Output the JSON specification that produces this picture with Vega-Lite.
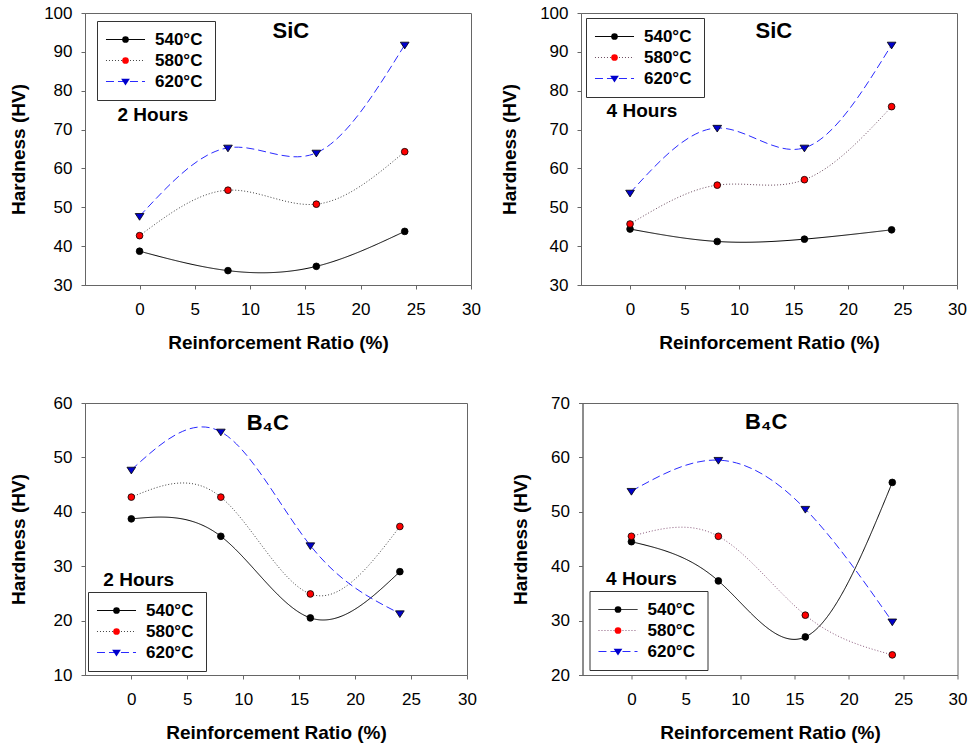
{
  "$schema": "https://vega.github.io/schema/vega-lite/v6.json",
  "background": "white",
  "padding": {"left": 8, "top": 3, "right": 0, "bottom": 0},
  "datasets": {
    "sic2": [
      {"ratio": 0, "hardness": 38.7, "temp": "540°C"},
      {"ratio": 8, "hardness": 33.7, "temp": "540°C"},
      {"ratio": 16, "hardness": 34.8, "temp": "540°C"},
      {"ratio": 24, "hardness": 43.8, "temp": "540°C"},
      {"ratio": 0, "hardness": 42.7, "temp": "580°C"},
      {"ratio": 8, "hardness": 54.4, "temp": "580°C"},
      {"ratio": 16, "hardness": 50.8, "temp": "580°C"},
      {"ratio": 24, "hardness": 64.3, "temp": "580°C"},
      {"ratio": 0, "hardness": 47.7, "temp": "620°C"},
      {"ratio": 8, "hardness": 65.3, "temp": "620°C"},
      {"ratio": 16, "hardness": 64.0, "temp": "620°C"},
      {"ratio": 24, "hardness": 91.8, "temp": "620°C"}
    ],
    "sic4": [
      {"ratio": 0, "hardness": 44.4, "temp": "540°C"},
      {"ratio": 8, "hardness": 41.2, "temp": "540°C"},
      {"ratio": 16, "hardness": 41.8, "temp": "540°C"},
      {"ratio": 24, "hardness": 44.2, "temp": "540°C"},
      {"ratio": 0, "hardness": 45.7, "temp": "580°C"},
      {"ratio": 8, "hardness": 55.7, "temp": "580°C"},
      {"ratio": 16, "hardness": 57.1, "temp": "580°C"},
      {"ratio": 24, "hardness": 75.9, "temp": "580°C"},
      {"ratio": 0, "hardness": 53.7, "temp": "620°C"},
      {"ratio": 8, "hardness": 70.4, "temp": "620°C"},
      {"ratio": 16, "hardness": 65.3, "temp": "620°C"},
      {"ratio": 24, "hardness": 91.8, "temp": "620°C"}
    ],
    "b4c2": [
      {"ratio": 0, "hardness": 38.7, "temp": "540°C"},
      {"ratio": 8, "hardness": 35.5, "temp": "540°C"},
      {"ratio": 16, "hardness": 20.5, "temp": "540°C"},
      {"ratio": 24, "hardness": 29.0, "temp": "540°C"},
      {"ratio": 0, "hardness": 42.7, "temp": "580°C"},
      {"ratio": 8, "hardness": 42.7, "temp": "580°C"},
      {"ratio": 16, "hardness": 24.9, "temp": "580°C"},
      {"ratio": 24, "hardness": 37.3, "temp": "580°C"},
      {"ratio": 0, "hardness": 47.7, "temp": "620°C"},
      {"ratio": 8, "hardness": 54.7, "temp": "620°C"},
      {"ratio": 16, "hardness": 33.8, "temp": "620°C"},
      {"ratio": 24, "hardness": 21.3, "temp": "620°C"}
    ],
    "b4c4": [
      {"ratio": 0, "hardness": 44.5, "temp": "540°C"},
      {"ratio": 8, "hardness": 37.3, "temp": "540°C"},
      {"ratio": 16, "hardness": 27.0, "temp": "540°C"},
      {"ratio": 24, "hardness": 55.4, "temp": "540°C"},
      {"ratio": 0, "hardness": 45.5, "temp": "580°C"},
      {"ratio": 8, "hardness": 45.5, "temp": "580°C"},
      {"ratio": 16, "hardness": 31.0, "temp": "580°C"},
      {"ratio": 24, "hardness": 23.7, "temp": "580°C"},
      {"ratio": 0, "hardness": 53.8, "temp": "620°C"},
      {"ratio": 8, "hardness": 59.5, "temp": "620°C"},
      {"ratio": 16, "hardness": 50.5, "temp": "620°C"},
      {"ratio": 24, "hardness": 29.8, "temp": "620°C"}
    ]
  },
  "spacing": 40,
  "resolve": {"scale": {"color": "independent", "fill": "independent", "shape": "independent", "strokeDash": "independent"}},
  "vconcat": [
    {
      "spacing": 19,
      "resolve": {"scale": {"color": "independent", "fill": "independent", "shape": "independent", "strokeDash": "independent"}},
      "hconcat": [
        {
          "width": 386, "height": 272,
          "data": {"name": "sic2"},
          "layer": [
            {
              "mark": {"type": "line", "interpolate": "natural", "strokeWidth": 1},
              "encoding": {
                "x": {"field": "ratio", "type": "quantitative", "scale": {"domain": [-4.94, 30], "nice": false, "zero": false}, "axis": {"values": [0, 5, 10, 15, 20, 25, 30], "tickCount": 20, "title": "Reinforcement Ratio (%)", "labelOverlap": false}},
                "y": {"field": "hardness", "type": "quantitative", "scale": {"domain": [30, 100], "nice": false, "zero": false}, "axis": {"values": [30, 40, 50, 60, 70, 80, 90, 100], "tickCount": 20, "title": "Hardness (HV)", "labelOverlap": false, "titlePadding": 15.5}},
                "color": {"field": "temp", "type": "nominal", "scale": {"domain": ["540°C", "580°C", "620°C"], "range": ["#000000", "#444444", "#2a2aff"]}, "legend": {"orient": "none", "legendX": 12, "legendY": 8, "title": null, "symbolType": "M-5,0H5", "symbolSize": 61, "symbolOffset": 10, "symbolStrokeWidth": 1, "symbolFillColor": "transparent", "strokeColor": null, "fillColor": null, "labelOffset": 21}},
                "strokeDash": {"field": "temp", "type": "nominal", "scale": {"domain": ["540°C", "580°C", "620°C"], "range": [[1, 0], [1, 2], [8, 4]]}, "legend": {"orient": "none", "legendX": 12, "legendY": 8, "title": null, "symbolType": "M-5,0H5", "symbolSize": 61, "symbolOffset": 10, "symbolStrokeWidth": 1, "symbolFillColor": "transparent", "strokeColor": null, "fillColor": null, "labelOffset": 21}}
              }
            },
            {
              "mark": {"type": "point", "filled": true, "stroke": "#000000", "strokeWidth": 0.8, "size": 45, "opacity": 1},
              "encoding": {
                "x": {"field": "ratio", "type": "quantitative"},
                "y": {"field": "hardness", "type": "quantitative"},
                "shape": {"field": "temp", "type": "nominal", "scale": {"range": ["circle", "circle", "M-1.3,-0.8L1.3,-0.8L0,1.2Z"]}, "legend": {"orient": "none", "legendX": 12, "legendY": 8, "title": null, "symbolSize": 45, "symbolOffset": 10, "symbolStrokeColor": "#000000", "symbolStrokeWidth": 0.8, "labelExpr": "''", "labelOpacity": 0, "labelOffset": 71, "strokeColor": "#333333", "fillColor": null}},
                "fill": {"field": "temp", "type": "nominal", "scale": {"range": ["#000000", "#ff0000", "#0000cc"]}, "legend": {"orient": "none", "legendX": 12, "legendY": 8, "title": null, "symbolSize": 45, "symbolOffset": 10, "symbolStrokeColor": "#000000", "symbolStrokeWidth": 0.8, "labelExpr": "''", "labelOpacity": 0, "labelOffset": 71, "strokeColor": "#333333", "fillColor": null}}
              }
            },
            {
              "data": {"values": [{"label": "SiC", "ratio": 13.7, "hardness": 93.6}]},
              "mark": {"type": "text", "font": "Liberation Sans", "fontSize": 22, "fontWeight": "bold", "align": "center", "baseline": "alphabetic", "color": "#000000"},
              "encoding": {"x": {"field": "ratio", "type": "quantitative"}, "y": {"field": "hardness", "type": "quantitative"}, "text": {"field": "label"}}
            },
            {
              "data": {"values": [{"label": "2 Hours", "ratio": -2.0, "hardness": 72.2}]},
              "mark": {"type": "text", "font": "Liberation Sans", "fontSize": 19, "fontWeight": "bold", "align": "left", "baseline": "alphabetic", "color": "#000000"},
              "encoding": {"x": {"field": "ratio", "type": "quantitative"}, "y": {"field": "hardness", "type": "quantitative"}, "text": {"field": "label"}}
            }
          ]
        },
        {
          "width": 376, "height": 272,
          "data": {"name": "sic4"},
          "layer": [
            {
              "mark": {"type": "line", "interpolate": "natural", "strokeWidth": 1},
              "encoding": {
                "x": {"field": "ratio", "type": "quantitative", "scale": {"domain": [-4.5, 30], "nice": false, "zero": false}, "axis": {"values": [0, 5, 10, 15, 20, 25, 30], "tickCount": 20, "title": "Reinforcement Ratio (%)", "labelOverlap": false}},
                "y": {"field": "hardness", "type": "quantitative", "scale": {"domain": [30, 100], "nice": false, "zero": false}, "axis": {"values": [30, 40, 50, 60, 70, 80, 90, 100], "tickCount": 20, "title": "Hardness (HV)", "labelOverlap": false}},
                "color": {"field": "temp", "type": "nominal", "scale": {"domain": ["540°C", "580°C", "620°C"], "range": ["#000000", "#6b4a5e", "#2a2aff"]}, "legend": {"orient": "none", "legendX": 5, "legendY": 5, "title": null, "symbolType": "M-5,0H5", "symbolSize": 61, "symbolOffset": 10, "symbolStrokeWidth": 1, "symbolFillColor": "transparent", "strokeColor": null, "fillColor": null, "labelOffset": 21}},
                "strokeDash": {"field": "temp", "type": "nominal", "scale": {"domain": ["540°C", "580°C", "620°C"], "range": [[1, 0], [1, 2], [8, 4]]}, "legend": {"orient": "none", "legendX": 5, "legendY": 5, "title": null, "symbolType": "M-5,0H5", "symbolSize": 61, "symbolOffset": 10, "symbolStrokeWidth": 1, "symbolFillColor": "transparent", "strokeColor": null, "fillColor": null, "labelOffset": 21}}
              }
            },
            {
              "mark": {"type": "point", "filled": true, "stroke": "#000000", "strokeWidth": 0.8, "size": 45, "opacity": 1},
              "encoding": {
                "x": {"field": "ratio", "type": "quantitative"},
                "y": {"field": "hardness", "type": "quantitative"},
                "shape": {"field": "temp", "type": "nominal", "scale": {"range": ["circle", "circle", "M-1.3,-0.8L1.3,-0.8L0,1.2Z"]}, "legend": {"orient": "none", "legendX": 5, "legendY": 5, "title": null, "symbolSize": 45, "symbolOffset": 10, "symbolStrokeColor": "#000000", "symbolStrokeWidth": 0.8, "labelExpr": "''", "labelOpacity": 0, "labelOffset": 71, "strokeColor": "#333333", "fillColor": null}},
                "fill": {"field": "temp", "type": "nominal", "scale": {"range": ["#000000", "#ff0000", "#0000cc"]}, "legend": {"orient": "none", "legendX": 5, "legendY": 5, "title": null, "symbolSize": 45, "symbolOffset": 10, "symbolStrokeColor": "#000000", "symbolStrokeWidth": 0.8, "labelExpr": "''", "labelOpacity": 0, "labelOffset": 71, "strokeColor": "#333333", "fillColor": null}}
              }
            },
            {
              "data": {"values": [{"label": "SiC", "ratio": 13.2, "hardness": 93.5}]},
              "mark": {"type": "text", "font": "Liberation Sans", "fontSize": 22, "fontWeight": "bold", "align": "center", "baseline": "alphabetic", "color": "#000000"},
              "encoding": {"x": {"field": "ratio", "type": "quantitative"}, "y": {"field": "hardness", "type": "quantitative"}, "text": {"field": "label"}}
            },
            {
              "data": {"values": [{"label": "4 Hours", "ratio": -2.15, "hardness": 73.2}]},
              "mark": {"type": "text", "font": "Liberation Sans", "fontSize": 19, "fontWeight": "bold", "align": "left", "baseline": "alphabetic", "color": "#000000"},
              "encoding": {"x": {"field": "ratio", "type": "quantitative"}, "y": {"field": "hardness", "type": "quantitative"}, "text": {"field": "label"}}
            }
          ]
        }
      ]
    },
    {
      "spacing": 33.5,
      "resolve": {"scale": {"color": "independent", "fill": "independent", "shape": "independent", "strokeDash": "independent"}},
      "hconcat": [
        {
          "width": 382, "height": 272,
          "data": {"name": "b4c2"},
          "layer": [
            {
              "mark": {"type": "line", "interpolate": "natural", "strokeWidth": 1},
              "encoding": {
                "x": {"field": "ratio", "type": "quantitative", "scale": {"domain": [-4.14, 30], "nice": false, "zero": false}, "axis": {"values": [0, 5, 10, 15, 20, 25, 30], "tickCount": 20, "title": "Reinforcement Ratio (%)", "labelOverlap": false}},
                "y": {"field": "hardness", "type": "quantitative", "scale": {"domain": [10, 60], "nice": false, "zero": false}, "axis": {"values": [10, 20, 30, 40, 50, 60], "tickCount": 20, "title": "Hardness (HV)", "labelOverlap": false, "titlePadding": 25}},
                "color": {"field": "temp", "type": "nominal", "scale": {"domain": ["540°C", "580°C", "620°C"], "range": ["#000000", "#444444", "#2a2aff"]}, "legend": {"orient": "none", "legendX": 3, "legendY": 189, "title": null, "symbolType": "M-5,0H5", "symbolSize": 61, "symbolOffset": 10, "symbolStrokeWidth": 1, "symbolFillColor": "transparent", "strokeColor": null, "fillColor": null, "labelOffset": 21}},
                "strokeDash": {"field": "temp", "type": "nominal", "scale": {"domain": ["540°C", "580°C", "620°C"], "range": [[1, 0], [1, 2], [8, 4]]}, "legend": {"orient": "none", "legendX": 3, "legendY": 189, "title": null, "symbolType": "M-5,0H5", "symbolSize": 61, "symbolOffset": 10, "symbolStrokeWidth": 1, "symbolFillColor": "transparent", "strokeColor": null, "fillColor": null, "labelOffset": 21}}
              }
            },
            {
              "mark": {"type": "point", "filled": true, "stroke": "#000000", "strokeWidth": 0.8, "size": 45, "opacity": 1},
              "encoding": {
                "x": {"field": "ratio", "type": "quantitative"},
                "y": {"field": "hardness", "type": "quantitative"},
                "shape": {"field": "temp", "type": "nominal", "scale": {"range": ["circle", "circle", "M-1.3,-0.8L1.3,-0.8L0,1.2Z"]}, "legend": {"orient": "none", "legendX": 3, "legendY": 189, "title": null, "symbolSize": 45, "symbolOffset": 10, "symbolStrokeColor": "#000000", "symbolStrokeWidth": 0.8, "labelExpr": "''", "labelOpacity": 0, "labelOffset": 71, "strokeColor": "#333333", "fillColor": null}},
                "fill": {"field": "temp", "type": "nominal", "scale": {"range": ["#000000", "#ff0000", "#0000cc"]}, "legend": {"orient": "none", "legendX": 3, "legendY": 189, "title": null, "symbolSize": 45, "symbolOffset": 10, "symbolStrokeColor": "#000000", "symbolStrokeWidth": 0.8, "labelExpr": "''", "labelOpacity": 0, "labelOffset": 71, "strokeColor": "#333333", "fillColor": null}}
              }
            },
            {
              "data": {"values": [{"label": "B₄C", "ratio": 12.2, "hardness": 55.1}]},
              "mark": {"type": "text", "font": "Liberation Sans", "fontSize": 22, "fontWeight": "bold", "align": "center", "baseline": "alphabetic", "color": "#000000"},
              "encoding": {"x": {"field": "ratio", "type": "quantitative"}, "y": {"field": "hardness", "type": "quantitative"}, "text": {"field": "label"}}
            },
            {
              "data": {"values": [{"label": "2 Hours", "ratio": -2.5, "hardness": 26.3}]},
              "mark": {"type": "text", "font": "Liberation Sans", "fontSize": 19, "fontWeight": "bold", "align": "left", "baseline": "alphabetic", "color": "#000000"},
              "encoding": {"x": {"field": "ratio", "type": "quantitative"}, "y": {"field": "hardness", "type": "quantitative"}, "text": {"field": "label"}}
            }
          ]
        },
        {
          "width": 375, "height": 272,
          "data": {"name": "b4c4"},
          "layer": [
            {
              "mark": {"type": "line", "interpolate": "natural", "strokeWidth": 1},
              "encoding": {
                "x": {"field": "ratio", "type": "quantitative", "scale": {"domain": [-4.5, 30], "nice": false, "zero": false}, "axis": {"values": [0, 5, 10, 15, 20, 25, 30], "tickCount": 20, "title": "Reinforcement Ratio (%)", "labelOverlap": false}},
                "y": {"field": "hardness", "type": "quantitative", "scale": {"domain": [20, 70], "nice": false, "zero": false}, "axis": {"values": [20, 30, 40, 50, 60, 70], "tickCount": 20, "title": "Hardness (HV)", "labelOverlap": false}},
                "color": {"field": "temp", "type": "nominal", "scale": {"domain": ["540°C", "580°C", "620°C"], "range": ["#000000", "#8a5a7c", "#2a2aff"]}, "legend": {"orient": "none", "legendX": 7, "legendY": 188, "title": null, "symbolType": "M-5,0H5", "symbolSize": 61, "symbolOffset": 10, "symbolStrokeWidth": 1, "symbolFillColor": "transparent", "strokeColor": null, "fillColor": null, "labelOffset": 21}},
                "strokeDash": {"field": "temp", "type": "nominal", "scale": {"domain": ["540°C", "580°C", "620°C"], "range": [[1, 0], [1, 2], [8, 4]]}, "legend": {"orient": "none", "legendX": 7, "legendY": 188, "title": null, "symbolType": "M-5,0H5", "symbolSize": 61, "symbolOffset": 10, "symbolStrokeWidth": 1, "symbolFillColor": "transparent", "strokeColor": null, "fillColor": null, "labelOffset": 21}}
              }
            },
            {
              "mark": {"type": "point", "filled": true, "stroke": "#000000", "strokeWidth": 0.8, "size": 45, "opacity": 1},
              "encoding": {
                "x": {"field": "ratio", "type": "quantitative"},
                "y": {"field": "hardness", "type": "quantitative"},
                "shape": {"field": "temp", "type": "nominal", "scale": {"range": ["circle", "circle", "M-1.3,-0.8L1.3,-0.8L0,1.2Z"]}, "legend": {"orient": "none", "legendX": 7, "legendY": 188, "title": null, "symbolSize": 45, "symbolOffset": 10, "symbolStrokeColor": "#000000", "symbolStrokeWidth": 0.8, "labelExpr": "''", "labelOpacity": 0, "labelOffset": 71, "strokeColor": "#333333", "fillColor": null}},
                "fill": {"field": "temp", "type": "nominal", "scale": {"range": ["#000000", "#ff0000", "#0000cc"]}, "legend": {"orient": "none", "legendX": 7, "legendY": 188, "title": null, "symbolSize": 45, "symbolOffset": 10, "symbolStrokeColor": "#000000", "symbolStrokeWidth": 0.8, "labelExpr": "''", "labelOpacity": 0, "labelOffset": 71, "strokeColor": "#333333", "fillColor": null}}
              }
            },
            {
              "data": {"values": [{"label": "B₄C", "ratio": 12.4, "hardness": 65.2}]},
              "mark": {"type": "text", "font": "Liberation Sans", "fontSize": 22, "fontWeight": "bold", "align": "center", "baseline": "alphabetic", "color": "#000000"},
              "encoding": {"x": {"field": "ratio", "type": "quantitative"}, "y": {"field": "hardness", "type": "quantitative"}, "text": {"field": "label"}}
            },
            {
              "data": {"values": [{"label": "4 Hours", "ratio": -2.33, "hardness": 36.55}]},
              "mark": {"type": "text", "font": "Liberation Sans", "fontSize": 19, "fontWeight": "bold", "align": "left", "baseline": "alphabetic", "color": "#000000"},
              "encoding": {"x": {"field": "ratio", "type": "quantitative"}, "y": {"field": "hardness", "type": "quantitative"}, "text": {"field": "label"}}
            }
          ]
        }
      ]
    }
  ],
  "config": {
    "font": "Liberation Sans",
    "view": {"stroke": "#666666", "strokeWidth": 1},
    "axis": {"grid": false, "labelOverlap": false, "domainColor": "#666666", "tickColor": "#666666", "tickSize": 4, "labelFont": "Liberation Sans", "labelFontSize": 17, "labelColor": "#000000", "titleFont": "Liberation Sans", "titleFontSize": 19, "titleFontWeight": "bold", "titleColor": "#000000"},
    "axisX": {"labelPadding": 12, "titlePadding": 16, "labelFlush": false},
    "axisY": {"labelPadding": 9, "titlePadding": 20},
    "legend": {"labelFont": "Liberation Sans", "labelFontSize": 17, "labelFontWeight": "bold", "labelColor": "#000000", "padding": 10, "rowPadding": 3}
  }
}
